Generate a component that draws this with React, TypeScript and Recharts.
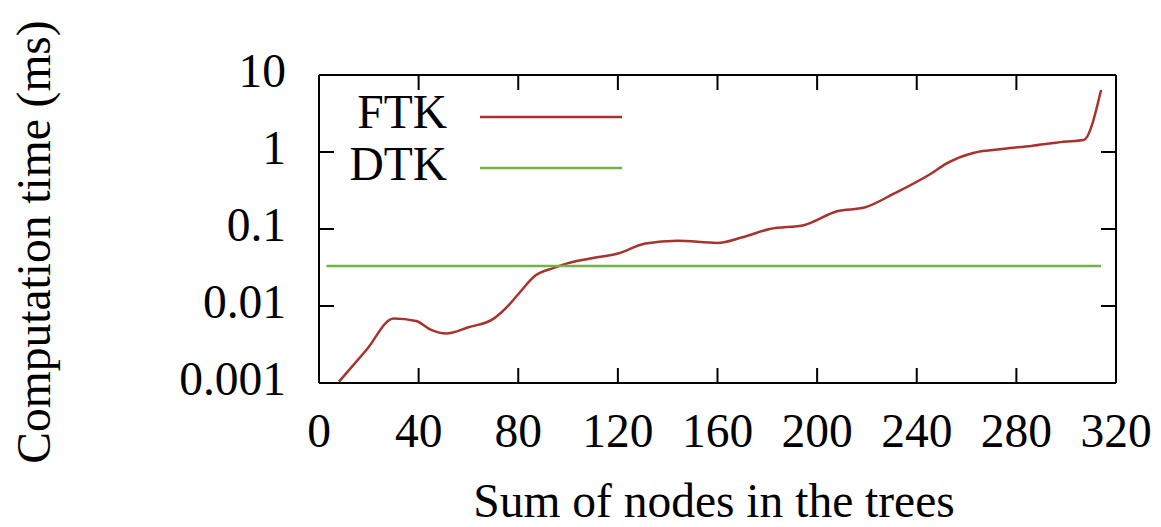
import { Legend, Line, LineChart, XAxis, YAxis } from "recharts";

// values (x = sum of nodes, y = ms, log axis)
const FTK_NODES = [8, 19, 30, 39, 45, 51, 60, 70, 76, 80, 87, 94, 100, 110, 120, 131, 144, 160, 170, 181, 195, 208, 219, 231, 246, 252, 263, 275, 286, 299, 307, 314];
const FTK_MS = [0.00104, 0.00268, 0.0069, 0.0064, 0.0049, 0.0044, 0.0053, 0.0068, 0.0101, 0.0142, 0.025, 0.031, 0.036, 0.042, 0.048, 0.065, 0.0705, 0.066, 0.078, 0.1, 0.113, 0.17, 0.19, 0.29, 0.53, 0.71, 0.98, 1.1, 1.2, 1.36, 1.43, 6.4];

const DTK_NODES = [3, 314];
const DTK_MS = [0.033, 0.033];

const X_TICKS = [0, 40, 80, 120, 160, 200, 240, 280, 320];
const Y_TICKS = [0.001, 0.01, 0.1, 1, 10];

const FTK_COLOR = "#a8332c";
const DTK_COLOR = "#72b24a";
const SERIF = '"Liberation Serif", "Times New Roman", "DejaVu Serif", serif';
const FONT_SIZE = 47.5;

const ftkData = FTK_NODES.map((x, i) => ({ x, ftk: FTK_MS[i] }));
const dtkData = DTK_NODES.map((x, i) => ({ x, dtk: DTK_MS[i] }));

const axisLine = { stroke: "#000", strokeWidth: 2 };
const tickFont = { fill: "#000", fontSize: FONT_SIZE, fontFamily: SERIF };
const noLabel = () => "";

// gnuplot-style key: label on the left, sample line to the right
function Key() {
  const rows = [
    { name: "FTK", color: FTK_COLOR, base: 128, lineY: 117 },
    { name: "DTK", color: DTK_COLOR, base: 180, lineY: 168 },
  ];
  return (
    <svg width={1161} height={527} style={{ position: "absolute", left: 0, top: 0 }}>
      {rows.map((r) => (
        <g key={r.name}>
          <text x={447} y={r.base} textAnchor="end" fontSize={FONT_SIZE} fontFamily={SERIF} fill="#000">
            {r.name}
          </text>
          <line x1={480} x2={622} y1={r.lineY} y2={r.lineY} stroke={r.color} strokeWidth={2.5} />
        </g>
      ))}
    </svg>
  );
}

export default function App() {
  return (
    <div style={{ position: "absolute", left: 0, top: 0, width: 1161, height: 527, background: "#fff" }}>
      <LineChart width={1161} height={527} margin={{ top: 74, right: 44, bottom: 84, left: 259 }}>
        <XAxis
          xAxisId="bottom"
          type="number"
          dataKey="x"
          domain={[0, 320]}
          ticks={X_TICKS}
          interval={0}
          allowDataOverflow
          height={60}
          tickSize={-15}
          tickMargin={45}
          axisLine={axisLine}
          tickLine={axisLine}
          tick={tickFont}
          label={{
            content: () => (
              <text x={714} y={517} textAnchor="middle" fontSize={FONT_SIZE} fontFamily={SERIF} fill="#000">
                Sum of nodes in the trees
              </text>
            ),
          }}
        />
        {/* top/right axes share the same domains; they close the frame and mirror the ticks */}
        <XAxis
          xAxisId="top"
          orientation="top"
          type="number"
          dataKey="x"
          domain={[0, 320]}
          ticks={X_TICKS}
          interval={0}
          allowDataOverflow
          height={1}
          tickSize={-15}
          axisLine={axisLine}
          tickLine={axisLine}
          tickFormatter={noLabel}
        />
        <YAxis
          yAxisId="left"
          type="number"
          scale="log"
          domain={[0.001, 10]}
          ticks={Y_TICKS}
          interval={0}
          allowDataOverflow
          width={60}
          tickSize={-15}
          tickMargin={48}
          axisLine={axisLine}
          tickLine={axisLine}
          tick={{ ...tickFont, dy: -5 }}
          tickFormatter={(v: number) => String(v)}
          label={{
            content: () => (
              <text
                x={50}
                y={242}
                transform="rotate(-90, 50, 242)"
                textAnchor="middle"
                fontSize={FONT_SIZE}
                fontFamily={SERIF}
                fill="#000"
              >
                Computation time (ms)
              </text>
            ),
          }}
        />
        <YAxis
          yAxisId="right"
          orientation="right"
          type="number"
          scale="log"
          domain={[0.001, 10]}
          ticks={Y_TICKS}
          interval={0}
          allowDataOverflow
          width={1}
          tickSize={-15}
          axisLine={axisLine}
          tickLine={axisLine}
          tickFormatter={noLabel}
        />
        <Legend
          layout="horizontal"
          verticalAlign="middle"
          align="center"
          wrapperStyle={{ position: "absolute", left: 0, top: 0, width: 1161, height: 527 }}
          content={() => <Key />}
        />
        <Line
          xAxisId="bottom"
          yAxisId="left"
          data={ftkData}
          dataKey="ftk"
          type="monotone"
          stroke={FTK_COLOR}
          strokeWidth={2.5}
          dot={false}
          isAnimationActive={false}
        />
        <Line
          xAxisId="top"
          yAxisId="right"
          data={dtkData}
          dataKey="dtk"
          type="linear"
          stroke={DTK_COLOR}
          strokeWidth={2.5}
          dot={false}
          isAnimationActive={false}
        />
      </LineChart>
    </div>
  );
}
